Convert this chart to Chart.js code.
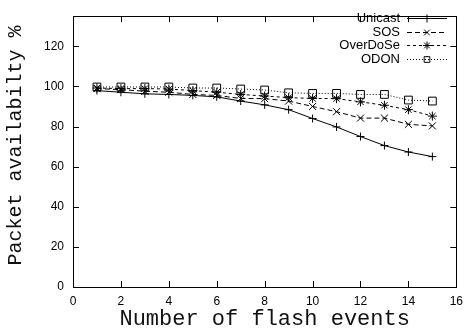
<!DOCTYPE html>
<html>
<head>
<meta charset="utf-8">
<script src="https://cdn.jsdelivr.net/npm/chart.js@4/dist/chart.umd.min.js"></script>
<style>
  body { margin: 0; background: #fff; }
  #wrap { width: 470px; height: 333px; position: relative; }
</style>
</head>
<body>
<div id="wrap"><canvas id="flashChart"></canvas></div>
<script>
// data
var flashEvents = [1, 2, 3, 4, 5, 6, 7, 8, 9, 10, 11, 12, 13, 14, 15];
var unicast  = [97.9, 97.1, 96.3, 96.0, 95.5, 94.8, 92.7, 90.8, 88.4, 84.0, 79.8, 75.0, 70.5, 67.3, 65.0];
var sos      = [98.9, 98.4, 97.6, 97.1, 96.0, 95.5, 94.0, 93.9, 92.7, 90.0, 87.4, 84.2, 84.2, 81.1, 80.3];
var overdose = [99.2, 98.9, 98.9, 98.7, 97.9, 97.1, 96.0, 95.2, 94.4, 94.0, 93.9, 92.3, 90.6, 88.4, 85.2];
var odon     = [99.7, 99.7, 99.7, 99.7, 99.2, 99.2, 98.7, 98.2, 96.8, 96.5, 96.5, 96.0, 96.0, 93.2, 92.7];
var xTicks = [0, 2, 4, 6, 8, 10, 12, 14, 16];
var yTicks = [0, 20, 40, 60, 80, 100, 120];

function pts(arr) {
    return arr.map(function (v, i) { return { x: flashEvents[i], y: v }; });
}

function series(label, arr, style, radius, dash) {
    return {
        label: label,
        data: pts(arr),
        borderColor: '#000',
        borderWidth: 1,
        borderDash: dash,
        pointStyle: style,
        pointRadius: radius,
        pointBorderColor: '#000',
        pointBackgroundColor: 'rgba(0,0,0,0)',
        pointBorderWidth: 1,
        tension: 0,
        fill: false
    };
}

// gnuplot style box + inward ticks on all four sides
var gnuBox = {
    id: 'gnuBox',
    afterDraw: function (chart) {
        var ctx = chart.ctx, a = chart.chartArea;
        var xs = chart.scales.x, ys = chart.scales.y;
        ctx.save();
        ctx.strokeStyle = '#000';
        ctx.lineWidth = 1;
        ctx.setLineDash([]);
        ctx.strokeRect(Math.round(a.left) + 0.5, Math.round(a.top) + 0.5,
            Math.round(a.right - a.left), Math.round(a.bottom - a.top));
        ctx.beginPath();
        xTicks.forEach(function (v) {
            var px = Math.round(xs.getPixelForValue(v)) + 0.5;
            ctx.moveTo(px, a.bottom); ctx.lineTo(px, a.bottom - 6);
            ctx.moveTo(px, a.top); ctx.lineTo(px, a.top + 6);
        });
        yTicks.forEach(function (v) {
            var py = Math.round(ys.getPixelForValue(v)) + 0.5;
            ctx.moveTo(a.left, py); ctx.lineTo(a.left + 6, py);
            ctx.moveTo(a.right, py); ctx.lineTo(a.right - 6, py);
        });
        ctx.stroke();
        ctx.restore();
    }
};

// legend in the top right corner, text right aligned, sample on the right
var gnuLegend = {
    id: 'gnuLegend',
    afterDraw: function (chart) {
        var ctx = chart.ctx;
        var textRight = 400, lineL = 407, lineR = 447, y0 = 18, step = 13.5;
        ctx.save();
        ctx.font = '13px "Liberation Sans", Arial, sans-serif';
        ctx.textAlign = 'right';
        ctx.textBaseline = 'middle';
        chart.data.datasets.forEach(function (ds, i) {
            var y = Math.round(y0 + i * step) + 0.5;
            ctx.fillStyle = '#000';
            ctx.fillText(ds.label, textRight, y);
            ctx.strokeStyle = '#000';
            ctx.lineWidth = 1;
            ctx.setLineDash(ds.borderDash || []);
            ctx.beginPath();
            ctx.moveTo(lineL, y);
            ctx.lineTo(lineR, y);
            ctx.stroke();
            ctx.setLineDash([]);
            ctx.fillStyle = 'rgba(0,0,0,0)';
            Chart.helpers.drawPoint(ctx, {
                pointStyle: ds.pointStyle,
                radius: Math.min(ds.pointRadius, 4),
                rotation: 0,
                borderWidth: 1
            }, (lineL + lineR) / 2, y);
        });
        ctx.restore();
    }
};

var ctx = document.getElementById('flashChart').getContext('2d');
new Chart(ctx, {
    type: 'line',
    data: {
        datasets: [
            series('Unicast', unicast, 'cross', 4, []),
            series('SOS', sos, 'crossRot', 5, [5, 3]),
            series('OverDoSe', overdose, 'star', 4.5, [3, 3]),
            series('ODON', odon, 'rect', 5.5, [1, 2])
        ]
    },
    options: {
        responsive: true,
        maintainAspectRatio: false,
        animation: false,
        layout: { padding: { top: 5, right: 8, left: 0, bottom: 0 } },
        plugins: { legend: { display: false }, tooltip: { enabled: false } },
        scales: {
            x: {
                type: 'linear',
                min: 0,
                max: 16,
                afterBuildTicks: function (s) { s.ticks = xTicks.map(function (v) { return { value: v }; }); },
                afterFit: function (s) { s.height = 46; },
                grid: { display: false, drawTicks: false },
                border: { display: false },
                ticks: { padding: 7, color: '#000', maxRotation: 0, font: { family: '"Liberation Sans", Arial, sans-serif', size: 12 } },
                title: {
                    display: true,
                    text: 'Number of flash events',
                    color: '#111',
                    padding: { top: 0, bottom: 1 },
                    font: { family: '"Liberation Mono", "Courier New", monospace', size: 22 }
                }
            },
            y: {
                min: 0,
                max: 135,
                afterBuildTicks: function (s) { s.ticks = yTicks.map(function (v) { return { value: v }; }); },
                afterFit: function (s) { s.width = 73; },
                grid: { display: false, drawTicks: false },
                border: { display: false },
                ticks: { padding: 9, color: '#000', font: { family: '"Liberation Sans", Arial, sans-serif', size: 12 } },
                title: {
                    display: true,
                    text: ' Packet availabilty %',
                    color: '#111',
                    padding: { top: 4, bottom: 0 },
                    font: { family: '"Liberation Mono", "Courier New", monospace', size: 20 }
                }
            }
        }
    },
    plugins: [gnuBox, gnuLegend]
});
</script>
</body>
</html>
